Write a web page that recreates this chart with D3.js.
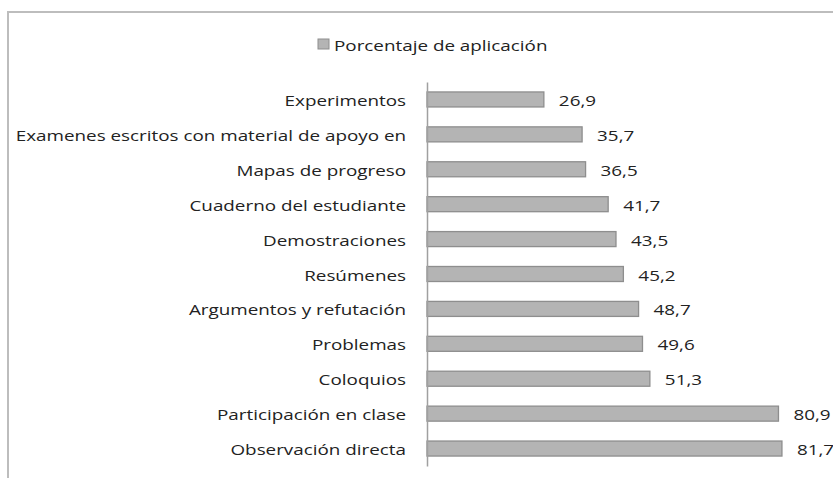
<!DOCTYPE html>
<html>
<head>
<meta charset="utf-8">
<script src="https://cdn.jsdelivr.net/npm/d3@7"></script>
<style>
  body { margin: 0; background: #fff; }
  svg { display: block; font-family: "Open Sans", sans-serif; }
</style>
</head>
<body>
<svg id="chart" width="833" height="478"></svg>
<script>
const categories = [
  "Experimentos",
  "Examenes escritos con material de apoyo en",
  "Mapas de progreso",
  "Cuaderno del estudiante",
  "Demostraciones",
  "Resúmenes",
  "Argumentos y refutación",
  "Problemas",
  "Coloquios",
  "Participación en clase",
  "Observación directa"
];
const values = [26.9, 35.7, 36.5, 41.7, 43.5, 45.2, 48.7, 49.6, 51.3, 80.9, 81.7];
const seriesName = "Porcentaje de aplicación";

const svg = d3.select("#chart");
const fmt = v => d3.format(".1f")(v).replace(".", ",");
const stretch = 1.3;   // the source text is wide, stretch it horizontally
const fs = 14.5;

// outer frame (only top and left visible in the crop)
svg.append("path")
  .attr("d", "M8,480 V12 H835")
  .attr("fill", "none")
  .attr("stroke", "#bdbdbd")
  .attr("stroke-width", 2);

const x = d3.scaleLinear().domain([0, 90]).range([427, 818]);
const y = d3.scaleBand().domain(categories).range([82, 466]).paddingInner(0.57).paddingOuter(0.285);

svg.selectAll(".bar")
  .data(values)
  .enter()
  .append("rect")
  .attr("class", "bar")
  .attr("x", x(0))
  .attr("y", (d, i) => y(categories[i]))
  .attr("width", d => x(d) - x(0))
  .attr("height", y.bandwidth())
  .attr("fill", "#b4b4b4")
  .attr("stroke", "#8e8e8e")
  .attr("stroke-width", 1.3);

svg.selectAll(".val")
  .data(values)
  .enter()
  .append("text")
  .attr("class", "val")
  .attr("transform", (d, i) => "translate(" + (x(d) + 15) + "," + (y(categories[i]) + y.bandwidth() / 2) + ") scale(" + stretch + ",1)")
  .attr("dy", "0.45em")
  .attr("font-size", fs)
  .attr("fill", "#222")
  .text(fmt);

// category axis
const yAxis = d3.axisLeft(y).tickSize(0).tickPadding(0);
const g = svg.append("g").attr("transform", "translate(" + x(0) + ",0)").call(yAxis);
g.select(".domain").attr("stroke", "#a0a0a0").attr("stroke-width", 1.5);
g.selectAll(".tick text")
  .attr("x", -21 / stretch)
  .attr("dy", "0.45em")
  .attr("transform", "scale(" + stretch + ",1)")
  .attr("font-size", fs)
  .attr("font-family", "Open Sans, sans-serif")
  .attr("fill", "#222");

// legend
svg.append("rect")
  .attr("x", 318).attr("y", 39)
  .attr("width", 11).attr("height", 10)
  .attr("fill", "#b4b4b4").attr("stroke", "#8e8e8e");
svg.append("text")
  .attr("transform", "translate(334,44) scale(" + stretch + ",1)")
  .attr("dy", "0.45em")
  .attr("font-size", fs)
  .attr("fill", "#222")
  .text(seriesName);
</script>
</body>
</html>
